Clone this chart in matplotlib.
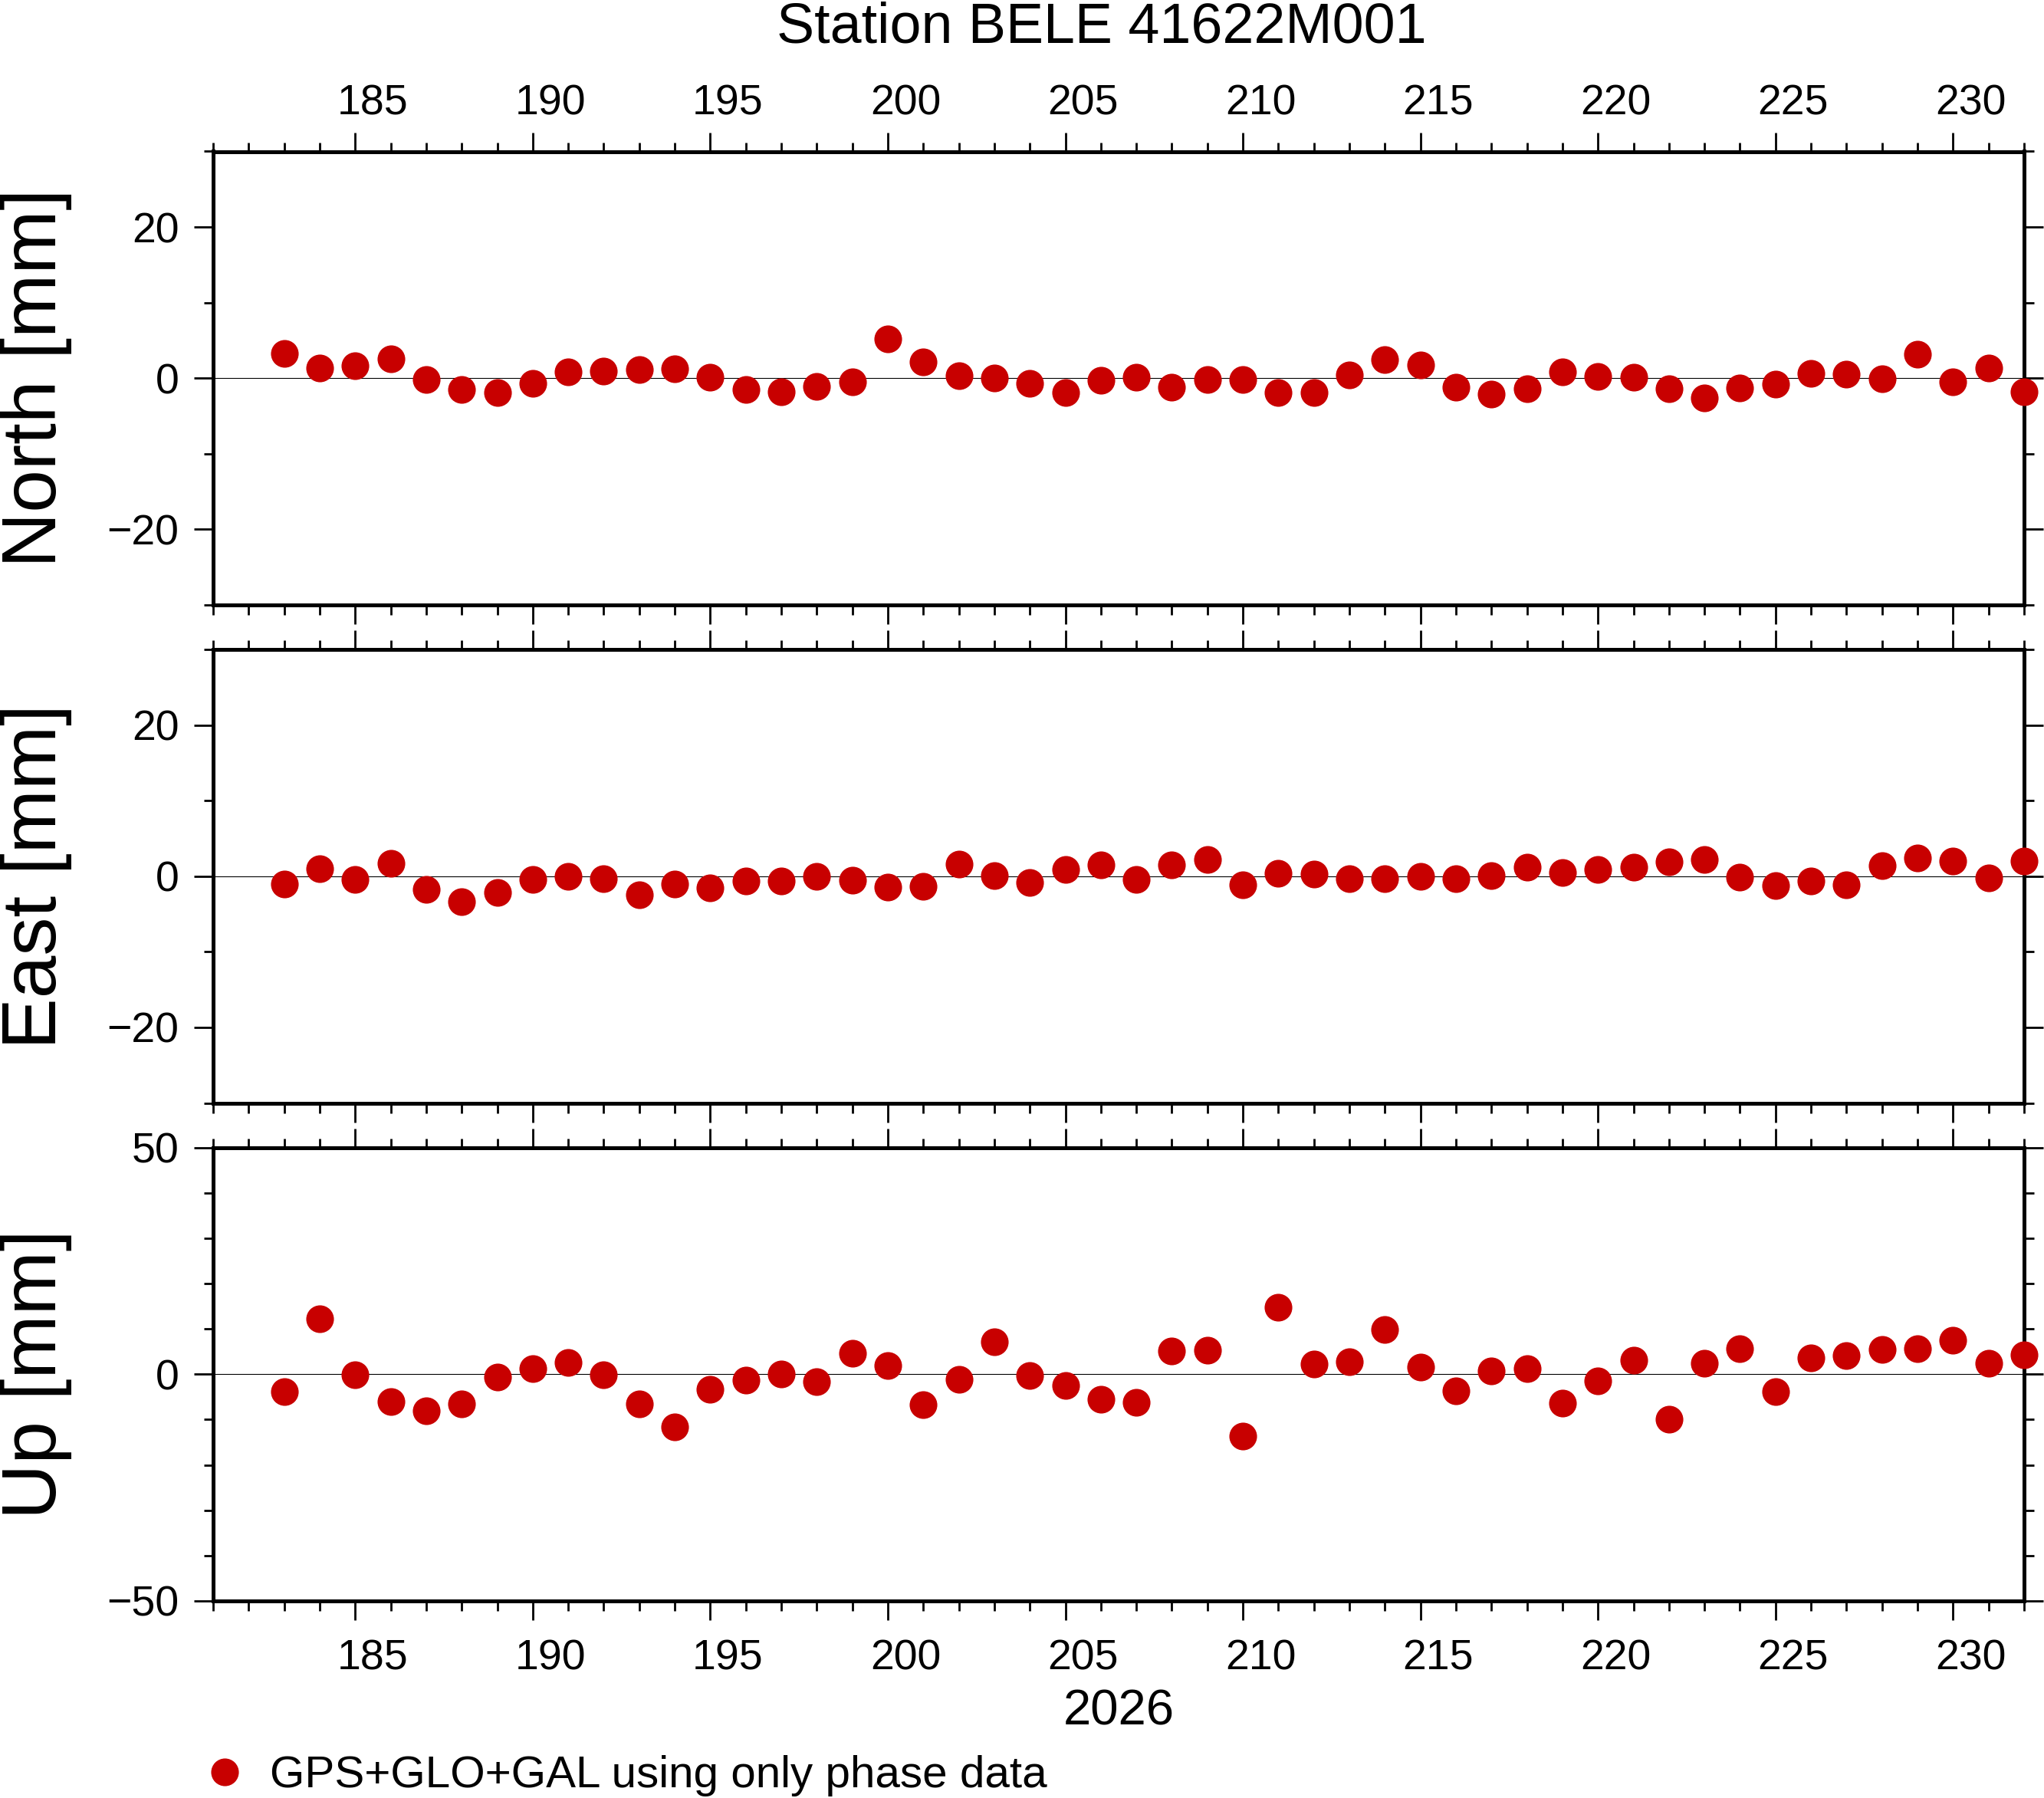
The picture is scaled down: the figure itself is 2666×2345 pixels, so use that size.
import matplotlib
matplotlib.use("Agg")
import matplotlib.pyplot as plt
from matplotlib.ticker import MultipleLocator, NullFormatter
from matplotlib.lines import Line2D
from matplotlib.transforms import blended_transform_factory, ScaledTranslation

plt.rcParams['font.family'] = ['Liberation Sans', 'DejaVu Sans']

days = list(range(183, 233))

north = [3.25, 1.3, 1.6, 2.6, -0.2, -1.54, -1.86, -0.73, 0.8, 0.9,
         1.1, 1.2, 0.08, -1.54, -1.75, -1.14, -0.53, 5.19, 2.2, 0.29,
         -0.02, -0.73, -1.86, -0.32, 0.08, -1.24, -0.22, -0.22, -1.95, -1.95,
         0.41, 2.44, 1.71, -1.24, -2.14, -1.44, 0.8, 0.19, 0.08, -1.44,
         -2.66, -1.34, -0.83, 0.59, 0.49, -0.12, 3.15, -0.53, 1.31, -1.85]

east = [-1.03, 1.0, -0.42, 1.71, -1.75, -3.36, -2.15, -0.42, -0.02, -0.32,
        -2.46, -1.03, -1.54, -0.63, -0.63, -0.02, -0.53, -1.44, -1.34, 1.61,
        0.08, -0.83, 0.9, 1.51, -0.42, 1.51, 2.22, -1.14, 0.39, 0.29,
        -0.32, -0.32, -0.02, -0.32, 0.08, 1.2, 0.49, 0.9, 1.2, 1.92,
        2.22, -0.12, -1.24, -0.63, -1.14, 1.41, 2.42, 2.02, -0.22, 2.02]

up = [-3.87, 12.23, -0.2, -6.07, -8.1, -6.58, -0.65, 1.21, 2.57, -0.14,
      -6.58, -11.7, -3.36, -1.33, 0.03, -1.67, 4.58, 1.89, -6.75, -1.16,
      7.15, -0.31, -2.51, -5.56, -6.24, 5.11, 5.28, -13.7, 14.77, 2.23,
      2.74, 9.86, 1.55, -3.7, 0.71, 1.21, -6.41, -1.5, 3.08, -9.97,
      2.4, 5.62, -3.87, 3.59, 4.1, 5.45, 5.62, 7.49, 2.4, 4.27]

tick_days = [185, 190, 195, 200, 205, 210, 215, 220, 225, 230]

panel_labels = ["North [mm]", "East [mm]", "Up [mm]"]
panel_data = [north, east, up]
panel_ylim = [30, 30, 50]
panel_major = [20, 20, 50]
panel_minor = [10, 10, 10]

title = "Station BELE 41622M001"
year_label = "2026"
legend_label = "GPS+GLO+GAL using only phase data"

W, H = 2666, 2345
DPI = 100
fig = plt.figure(figsize=(W / DPI, H / DPI), dpi=DPI)

red = '#c80000'
left = 278 / W
width = (2640 - 278) / W
ph = 591.5 / H
bottoms = [1 - 789 / H, 1 - 1438.5 / H, 1 - 2088 / H]
label_y = [1 - 493 / H, 1 - 1143 / H, 1 - 1792 / H]

axes = []
for i in range(3):
    ax = fig.add_axes([left, bottoms[i], width, ph])
    axes.append(ax)
    lim = panel_ylim[i]
    ax.set_xlim(181, 232)
    ax.set_ylim(-lim, lim)
    ax.axhline(0, color='black', lw=0.8, zorder=1)
    ax.plot(days, panel_data[i], 'o', color=red, markersize=26,
            markeredgewidth=0, clip_on=False, zorder=5)
    ax.set_xticks(tick_days)
    ax.xaxis.set_minor_locator(MultipleLocator(1))
    ax.xaxis.set_major_formatter(NullFormatter())
    ax.yaxis.set_major_locator(MultipleLocator(panel_major[i]))
    ax.yaxis.set_minor_locator(MultipleLocator(panel_minor[i]))
    for s in ax.spines.values():
        s.set_linewidth(3.6)
    ax.tick_params(which='both', direction='out', top=True, right=True,
                   width=2.0, labelsize=40)
    ax.tick_params(which='major', length=18)
    ax.tick_params(which='minor', length=9)
    ax.tick_params(axis='y', pad=14)
    ax.tick_params(axis='x', labelbottom=False, labeltop=False)
    fig.text(47 / W, label_y[i], panel_labels[i], rotation=90,
             ha='center', va='center', fontsize=72)

    # interval-style annotations (centred between day d and d+1)
    base = blended_transform_factory(ax.transData, ax.transAxes)
    if i == 0:
        tr = base + ScaledTranslation(0, 47.5 / DPI, fig.dpi_scale_trans)
        for d in tick_days:
            ax.text(d + 0.5, 1.0, str(d), transform=tr, ha='center',
                    va='baseline', fontsize=40, clip_on=False)
    if i == 2:
        tr = base + ScaledTranslation(0, -90 / DPI, fig.dpi_scale_trans)
        for d in tick_days:
            ax.text(d + 0.5, 0.0, str(d), transform=tr, ha='center',
                    va='baseline', fontsize=40, clip_on=False)

fig.text(1437 / W, 1 - 56 / H, title, ha='center', va='baseline', fontsize=53)
fig.text(1459 / W, 1 - 2250 / H, year_label, ha='center', va='baseline', fontsize=47)

handle = Line2D([], [], linestyle='none', marker='o', color=red,
                markersize=26, markeredgewidth=0)
fig.legend(handles=[handle], labels=[legend_label], loc='center left',
           bbox_to_anchor=(264 / W, 1 - 2316 / H), frameon=False,
           fontsize=42, handlelength=1.0, handletextpad=0.5,
           borderpad=0, borderaxespad=0)

fig.savefig("out.png", dpi=DPI)
